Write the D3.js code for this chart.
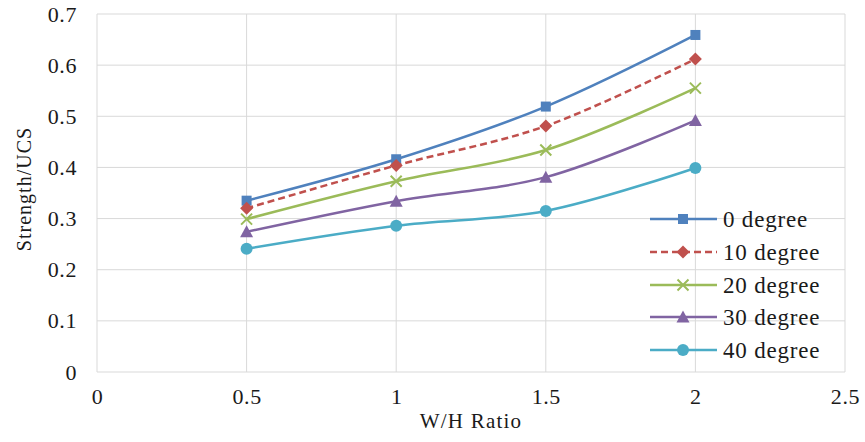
<!DOCTYPE html>
<html>
<head>
  <title>Strength/UCS vs W/H Ratio</title>
  <script src="https://d3js.org/d3.v7.min.js"></script>
  <style>
    body {
      margin: 0;
      background: white;
    }
    .grid line {
      stroke: #d9d9d9;
      stroke-width: 1px;
    }
    .series-line {
      fill: none;
      stroke-width: 2.5px;
    }
  </style>
</head>
<body>
  <div id="chart"></div>

  <script>
    // data
    const ratios = [0.5, 1, 1.5, 2];
    const seriesNames = ['0 degree', '10 degree', '20 degree', '30 degree', '40 degree'];
    const deg0 = [0.335, 0.416, 0.519, 0.659];
    const deg10 = [0.320, 0.404, 0.481, 0.612];
    const deg20 = [0.299, 0.373, 0.434, 0.555];
    const deg30 = [0.274, 0.334, 0.381, 0.492];
    const deg40 = [0.241, 0.286, 0.315, 0.399];
    const xTicks = [0, 0.5, 1, 1.5, 2, 2.5];
    const yTicks = [0, 0.1, 0.2, 0.3, 0.4, 0.5, 0.6, 0.7];

    const colors = ['#4f81bd', '#c0504d', '#9bbb59', '#8064a2', '#4bacc6'];
    const markers = ['square', 'diamond', 'cross', 'triangle', 'circle'];
    const dashes = [null, '7,4', null, null, null];
    const serif = '"Liberation Serif", "Times New Roman", "DejaVu Serif", serif';

    const allValues = [deg0, deg10, deg20, deg30, deg40];
    const series = seriesNames.map((name, i) => ({
      name,
      color: colors[i],
      marker: markers[i],
      dash: dashes[i],
      points: ratios.map((r, j) => ({ x: r, y: allValues[i][j] }))
    }));

    const width = 865, height = 442;
    const margin = { left: 97, right: 20, top: 14, bottom: 70 };

    const svg = d3.select('#chart')
      .append('svg')
      .attr('width', width)
      .attr('height', height);

    const x = d3.scaleLinear().domain([0, 2.5]).range([margin.left, width - margin.right]);
    const y = d3.scaleLinear().domain([0, 0.7]).range([height - margin.bottom, margin.top]);

    // gridlines + frame
    const grid = svg.append('g').attr('class', 'grid');
    grid.selectAll('.hline')
      .data(yTicks)
      .join('line')
      .attr('x1', x(0)).attr('x2', x(2.5))
      .attr('y1', d => y(d)).attr('y2', d => y(d));
    grid.selectAll('.vline')
      .data(xTicks)
      .join('line')
      .attr('class', 'vline')
      .attr('y1', y(0)).attr('y2', y(0.7))
      .attr('x1', d => x(d)).attr('x2', d => x(d));

    // axes, labels only (the picture is a bit stretched, so letters get a little extra spacing)
    const xAxis = svg.append('g')
      .attr('transform', `translate(0,${y(0)})`)
      .call(d3.axisBottom(x).tickValues(xTicks).tickSize(0).tickPadding(16).tickFormat(d3.format('')));
    const yAxis = svg.append('g')
      .attr('transform', `translate(${x(0)},0)`)
      .call(d3.axisLeft(y).tickValues(yTicks).tickSize(0).tickPadding(20).tickFormat(d3.format('')));
    [xAxis, yAxis].forEach(a => {
      a.select('.domain').remove();
      a.attr('font-family', serif).attr('font-size', 22);
      a.selectAll('text')
        .style('font-family', serif)
        .style('letter-spacing', '0.6px')
        .attr('fill', '#1a1a1a');
    });

    svg.append('text')
      .attr('x', (x(0) + x(2.5)) / 2)
      .attr('y', 428)
      .attr('text-anchor', 'middle')
      .style('font-family', serif)
      .style('letter-spacing', '1.2px')
      .attr('font-size', 21)
      .attr('fill', '#1a1a1a')
      .text('W/H Ratio');

    svg.append('text')
      .attr('transform', `translate(31,189) rotate(-90)`)
      .attr('text-anchor', 'middle')
      .style('font-family', serif)
      .style('letter-spacing', '1px')
      .attr('font-size', 20)
      .attr('fill', '#1a1a1a')
      .text('Strength/UCS');

    function drawMarker(g, type, color) {
      if (type === 'square') {
        g.append('rect').attr('x', -5).attr('y', -5).attr('width', 10).attr('height', 10).attr('fill', color);
      } else if (type === 'diamond') {
        g.append('path').attr('d', 'M0,-6.5L6.5,0L0,6.5L-6.5,0Z').attr('fill', color);
      } else if (type === 'cross') {
        g.append('path').attr('d', 'M-5.5,-5.5L5.5,5.5M-5.5,5.5L5.5,-5.5').attr('stroke', color).attr('stroke-width', 2).attr('fill', 'none');
      } else if (type === 'triangle') {
        g.append('path').attr('d', 'M0,-6.5L6.5,5.5L-6.5,5.5Z').attr('fill', color);
      } else {
        g.append('circle').attr('r', 6).attr('fill', color);
      }
    }

    const line = d3.line()
      .x(d => x(d.x))
      .y(d => y(d.y))
      .curve(d3.curveCatmullRom.alpha(0.5));

    series.forEach(s => {
      svg.append('path')
        .datum(s.points)
        .attr('class', 'series-line')
        .attr('stroke', s.color)
        .attr('stroke-dasharray', s.dash)
        .attr('d', line);
      s.points.forEach(p => {
        const g = svg.append('g').attr('transform', `translate(${x(p.x)},${y(p.y)})`);
        drawMarker(g, s.marker, s.color);
      });
    });

    // legend inside the plot, lower right
    const legend = svg.append('g');
    const legendRows = [219, 252, 285, 317, 350];
    series.forEach((s, i) => {
      const row = legend.append('g').attr('transform', `translate(650,${legendRows[i]})`);
      row.append('line')
        .attr('x1', 0).attr('x2', 67)
        .attr('stroke', s.color)
        .attr('stroke-width', 2.5)
        .attr('stroke-dasharray', s.dash);
      drawMarker(row.append('g').attr('transform', 'translate(33,0)'), s.marker, s.color);
      row.append('text')
        .attr('x', 73)
        .attr('dy', '0.35em')
        .style('font-family', serif)
        .style('letter-spacing', '0.8px')
        .attr('font-size', 23)
        .attr('fill', '#1a1a1a')
        .text(s.name);
    });
  </script>
</body>
</html>
